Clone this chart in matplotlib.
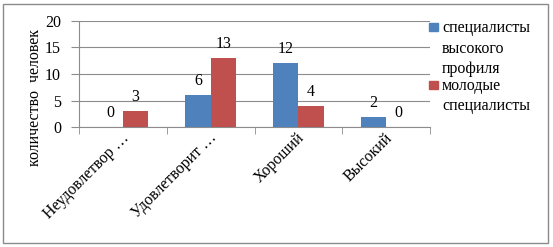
import numpy as np
import matplotlib.pyplot as plt
from matplotlib.patches import Rectangle
from matplotlib.transforms import ScaledTranslation

plt.rcParams['font.family'] = 'serif'
plt.rcParams['font.serif'] = ['Liberation Serif', 'DejaVu Serif']

# Data
categories = ["Неудовлетвор …", "Удовлетворит …", "Хороший", "Высокий"]
series_names = ["специалисты\nвысокого\nпрофиля", "молодые\nспециалисты"]
high_profile = [0, 6, 12, 2]
young = [3, 13, 4, 0]
colors = ["#4F81BD", "#C0504D"]
yticks = [0, 5, 10, 15, 20]

FS = 11.5
W, H = 553, 247
fig = plt.figure(figsize=(W / 100, H / 100), dpi=100)

# outer frame
fig.patches.append(Rectangle((3 / W, 4 / H), 545 / W, 239 / H, transform=fig.transFigure,
                             fill=False, edgecolor="#8a8a8a", linewidth=1.0))

ax = fig.add_axes([79 / W, (H - 127.3) / H, 351 / W, 106.6 / H])
grid_c = "#8c8c8c"
x = np.arange(len(categories))
bw = 0.29
for i, (vals, col) in enumerate(zip([high_profile, young], colors)):
    off = (i - 0.5) * bw
    ax.bar(x + off, vals, width=bw, color=col, zorder=3)
    for xi, v in zip(x, vals):
        ax.annotate(str(v), (xi + off, v), xytext=(0, 7.3), textcoords="offset points",
                    ha="center", va="baseline", fontsize=FS)

ax.set_xlim(-0.5, len(categories) - 0.5)
ax.set_ylim(0, 20)
ax.set_yticks(yticks)
ax.yaxis.grid(True, color=grid_c, linewidth=0.8)
ax.set_axisbelow(True)
for s in ["top", "right"]:
    ax.spines[s].set_visible(False)
for s in ["left", "bottom"]:
    ax.spines[s].set_color(grid_c)
    ax.spines[s].set_linewidth(0.8)
ax.tick_params(axis="y", length=6, color=grid_c, pad=7, labelsize=FS)

ax.set_xticks(x)
ax.set_xticklabels(categories, rotation=45, ha="right", va="center",
                   rotation_mode="anchor", fontsize=FS)
ax.tick_params(axis="x", length=0, pad=6)
shift = ScaledTranslation(4 / 100, 0, fig.dpi_scale_trans)
for lbl in ax.get_xticklabels():
    lbl.set_transform(lbl.get_transform() + shift)
ax.set_xticks(np.arange(-0.5, len(categories)), minor=True)
ax.tick_params(axis="x", which="minor", length=5, color=grid_c)

fig.text(35 / W, (H - 98) / H, "количество  человек", rotation=90,
         ha="center", va="center", fontsize=FS)

# legend (marker next to first line of each label)
leg_top = [23, 80.7]
for name, col, yt in zip(series_names, colors, leg_top):
    fig.patches.append(Rectangle((429 / W, (H - yt - 8.5) / H), 8.5 / W, 8.5 / H,
                                 transform=fig.transFigure, color=col))
    fig.text(442 / W, (H - yt + 3) / H, name, ha="left", va="top",
             fontsize=FS, linespacing=1.38)

fig.savefig("out.png", dpi=100)
